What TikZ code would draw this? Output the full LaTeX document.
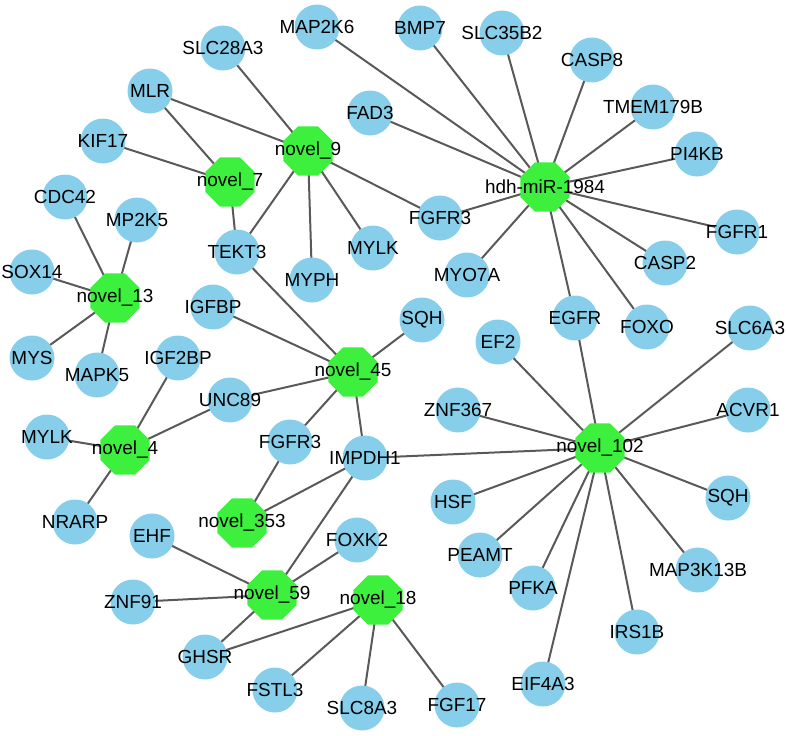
\documentclass[tikz,border=0pt]{standalone}
\usepackage{fontspec}
\setmainfont{Liberation Sans}
\usepackage{tikz}
\usetikzlibrary{shapes.geometric}
\definecolor{genefill}{HTML}{87CEEB}
\definecolor{mirfill}{HTML}{3DF03D}
\definecolor{linkgray}{HTML}{595959}
\pgfdeclarelayer{background}
\pgfsetlayers{background,main}
\tikzset{
  gene/.style={circle,fill=genefill,minimum size=33.75pt,inner sep=0pt},
  mir/.style={regular polygon,regular polygon sides=8,fill=mirfill,minimum size=39.8pt,inner sep=0pt},
  every label/.style={font=\fontsize{14.2pt}{16pt}\selectfont,inner sep=0pt,text=black},
  link/.style={draw=linkgray,line width=1.5pt}
}

\begin{document}
\begin{tikzpicture}[x=0.75pt,y=-0.75pt]
\useasboundingbox (0,0) rectangle (787,735);
% hubs
\node[mir,label=center:hdh-miR-1984] (mir1984) at (545,187) {};
\node[mir,label=center:novel\_9] (n9) at (308,151) {};
\node[mir,label=center:novel\_7] (n7) at (230,182) {};
\node[mir,label=center:novel\_13] (n13) at (115,298) {};
\node[mir,label=center:novel\_45] (n45) at (353,372) {};
\node[mir,label=center:novel\_4] (n4) at (125,450) {};
\node[mir,label=center:novel\_102] (n102) at (600,448) {};
\node[mir,label=center:novel\_353] (n353) at (242,523) {};
\node[mir,label=center:novel\_59] (n59) at (272,595) {};
\node[mir,label=center:novel\_18] (n18) at (378,600) {};
% targets
\node[gene,label=center:MAP2K6] (map2k6) at (317,27) {};
\node[gene,label=center:SLC28A3] (slc28a3) at (223,48) {};
\node[gene,label=center:BMP7] (bmp7) at (420,28) {};
\node[gene,label=center:SLC35B2] (slc35b2) at (502,33) {};
\node[gene,label=center:CASP8] (casp8) at (592,60) {};
\node[gene,label=center:MLR] (mlr) at (150,91) {};
\node[gene,label=center:TMEM179B] (tmem179b) at (653,107) {};
\node[gene,label=center:FAD3] (fad3) at (370,113) {};
\node[gene,label=center:KIF17] (kif17) at (103,141) {};
\node[gene,label=center:PI4KB] (pi4kb) at (697,154) {};
\node[gene,label=center:CDC42] (cdc42) at (65,197) {};
\node[gene,label=center:FGFR3] (fgfr3a) at (440,218) {};
\node[gene,label=center:MP2K5] (mp2k5) at (137,220) {};
\node[gene,label=center:FGFR1] (fgfr1) at (737,232) {};
\node[gene,label=center:MYLK] (mylka) at (373,248) {};
\node[gene,label=center:TEKT3] (tekt3) at (237,252) {};
\node[gene,label=center:CASP2] (casp2) at (665,263) {};
\node[gene,label=center:SOX14] (sox14) at (32,272) {};
\node[gene,label=center:MYO7A] (myo7a) at (467,275) {};
\node[gene,label=center:MYPH] (myph) at (312,280) {};
\node[gene,label=center:IGFBP] (igfbp) at (213,307) {};
\node[gene,label=center:EGFR] (egfr) at (575,318) {};
\node[gene,label=center:SQH] (sqha) at (422,320) {};
\node[gene,label=center:FOXO] (foxo) at (647,327) {};
\node[gene,label=center:SLC6A3] (slc6a3) at (750,328) {};
\node[gene,label=center:EF2] (ef2) at (498,342) {};
\node[gene,label=center:MYS] (mys) at (32,358) {};
\node[gene,label=center:IGF2BP] (igf2bp) at (178,358) {};
\node[gene,label=center:MAPK5] (mapk5) at (97,375) {};
\node[gene,label=center:UNC89] (unc89) at (230,400) {};
\node[gene,label=center:ZNF367] (znf367) at (458,410) {};
\node[gene,label=center:ACVR1] (acvr1) at (748,410) {};
\node[gene,label=center:MYLK] (mylkb) at (47,437) {};
\node[gene,label=center:FGFR3] (fgfr3b) at (290,442) {};
\node[gene,label=center:IMPDH1] (impdh1) at (365,458) {};
\node[gene,label=center:SQH] (sqhb) at (728,498) {};
\node[gene,label=center:HSF] (hsf) at (453,502) {};
\node[gene,label=center:NRARP] (nrarp) at (75,522) {};
\node[gene,label=center:EHF] (ehf) at (152,536) {};
\node[gene,label=center:FOXK2] (foxk2) at (357,540) {};
\node[gene,label=center:PEAMT] (peamt) at (480,555) {};
\node[gene,label=center:MAP3K13B] (map3k13b) at (698,570) {};
\node[gene,label=center:PFKA] (pfka) at (533,588) {};
\node[gene,label=center:ZNF91] (znf91) at (133,602) {};
\node[gene,label=center:IRS1B] (irs1b) at (637,632) {};
\node[gene,label=center:GHSR] (ghsr) at (205,657) {};
\node[gene,label=center:EIF4A3] (eif4a3) at (543,684) {};
\node[gene,label=center:FSTL3] (fstl3) at (275,690) {};
\node[gene,label=center:FGF17] (fgf17) at (457,705) {};
\node[gene,label=center:SLC8A3] (slc8a3) at (362,708) {};
% links
\begin{pgfonlayer}{background}
\foreach \t in {map2k6,bmp7,slc35b2,casp8,tmem179b,pi4kb,fgfr1,fad3,fgfr3a,myo7a,egfr,foxo,casp2}
  \draw[link] (mir1984.center) -- (\t.center);
\foreach \t in {slc28a3,mlr,fgfr3a,mylka,myph,tekt3}
  \draw[link] (n9.center) -- (\t.center);
\foreach \t in {mlr,kif17,tekt3}
  \draw[link] (n7.center) -- (\t.center);
\foreach \t in {cdc42,mp2k5,sox14,mys,mapk5}
  \draw[link] (n13.center) -- (\t.center);
\foreach \t in {tekt3,igfbp,sqha,unc89,fgfr3b,impdh1}
  \draw[link] (n45.center) -- (\t.center);
\foreach \t in {igf2bp,unc89,mylkb,nrarp}
  \draw[link] (n4.center) -- (\t.center);
\foreach \t in {fgfr3b,impdh1}
  \draw[link] (n353.center) -- (\t.center);
\foreach \t in {impdh1,egfr,ef2,znf367,slc6a3,acvr1,sqhb,hsf,peamt,pfka,eif4a3,irs1b,map3k13b}
  \draw[link] (n102.center) -- (\t.center);
\foreach \t in {ehf,znf91,ghsr,foxk2,impdh1}
  \draw[link] (n59.center) -- (\t.center);
\foreach \t in {ghsr,fstl3,slc8a3,fgf17}
  \draw[link] (n18.center) -- (\t.center);
\end{pgfonlayer}
\end{tikzpicture}
\end{document}
